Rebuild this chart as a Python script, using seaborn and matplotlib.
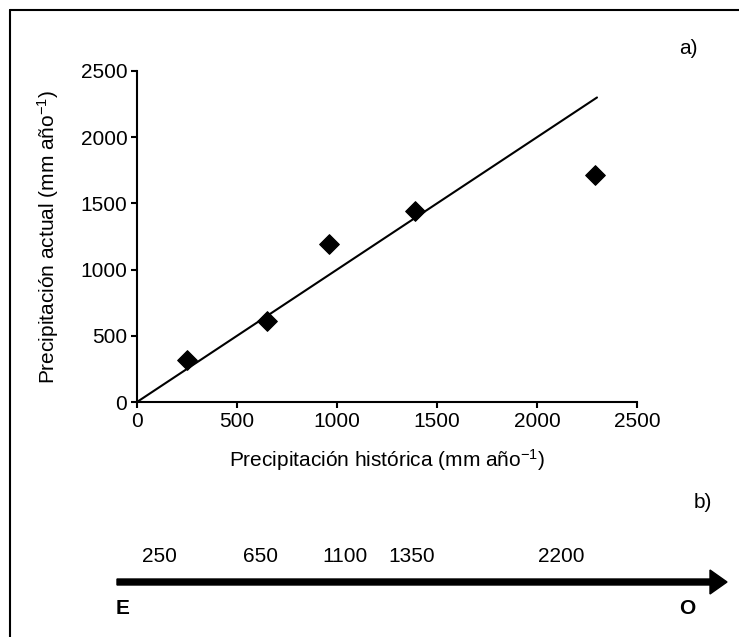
import matplotlib
matplotlib.use("Agg")
import matplotlib.pyplot as plt
from matplotlib.lines import Line2D
import seaborn as sns
import pandas as pd

# ---- data ----
hist = [250, 650, 960, 1390, 2290]           # Precipitación histórica
actual = [320, 615, 1190, 1445, 1715]        # Precipitación actual
line_x = [0, 2300]                           # 1:1 line
line_y = [0, 2300]
ticks = [0, 500, 1000, 1500, 2000, 2500]
gradient_labels = ["250", "650", "1100", "1350", "2200"]
gradient_xpos = [159, 260, 345, 412, 561]    # pixel centres of labels

sns.set_style("ticks")
plt.rcParams["font.family"] = ["Liberation Sans", "DejaVu Sans"]
plt.rcParams["mathtext.fontset"] = "custom"
plt.rcParams["mathtext.rm"] = "Liberation Sans"
plt.rcParams["mathtext.default"] = "regular"
plt.rcParams["text.color"] = "black"
plt.rcParams["axes.labelcolor"] = "black"

FS = 15
W, H = 739, 637
fig = plt.figure(figsize=(W / 100, H / 100), dpi=100)

ax = fig.add_axes([137 / W, 1 - 402 / H, 500 / W, 331 / H])
df = pd.DataFrame({"x": hist, "y": actual})
dl = pd.DataFrame({"x": line_x, "y": line_y})
sns.lineplot(data=dl, x="x", y="y", ax=ax, color="black", lw=1.5)
sns.scatterplot(data=df, x="x", y="y", ax=ax, marker="D", s=100,
                color="black", edgecolor="black", zorder=3)
ax.set_xlim(0, 2500)
ax.set_ylim(0, 2500)
ax.set_xticks(ticks)
ax.set_yticks(ticks)
for s in ["top", "right"]:
    ax.spines[s].set_visible(False)
for s in ["left", "bottom"]:
    ax.spines[s].set_linewidth(1.5)
    ax.spines[s].set_color("black")
ax.tick_params(axis="both", length=4, width=1.5, color="black",
               labelsize=FS, labelcolor="black", pad=3)
ax.set_xlabel("Precipitación histórica (mm año$^{-1}$)", fontsize=FS, labelpad=12)
ax.set_ylabel("Precipitación actual (mm año$^{-1}$)", fontsize=FS, labelpad=14)

def px(x, y):
    return x / W, 1 - y / H

fig.text(*px(688, 48), "a)", fontsize=FS, ha="center", va="center")
fig.text(*px(703, 503), "b)", fontsize=FS, ha="center", va="center")

for lab, xp in zip(gradient_labels, gradient_xpos):
    fig.text(*px(xp, 557), lab, fontsize=FS, ha="center", va="center")

fig.text(*px(123, 609), "E", fontsize=FS, ha="center", va="center", fontweight="bold")
fig.text(*px(687, 609), "O", fontsize=FS, ha="center", va="center", fontweight="bold")

# arrow
fig.add_artist(matplotlib.patches.FancyArrow(
    117 / W, 1 - 582 / H, (710 - 117) / W, 0, width=6 / H,
    head_width=24 / H, head_length=17 / W, length_includes_head=False,
    color="black", transform=fig.transFigure))

# frame (left and top)
fig.add_artist(Line2D([10 / W, 10 / W], [0, 1 - 10 / H], color="black", lw=1.5,
                      transform=fig.transFigure))
fig.add_artist(Line2D([10 / W, 1], [1 - 10 / H, 1 - 10 / H], color="black", lw=1.5,
                      transform=fig.transFigure))

fig.savefig("out.png", dpi=100)
